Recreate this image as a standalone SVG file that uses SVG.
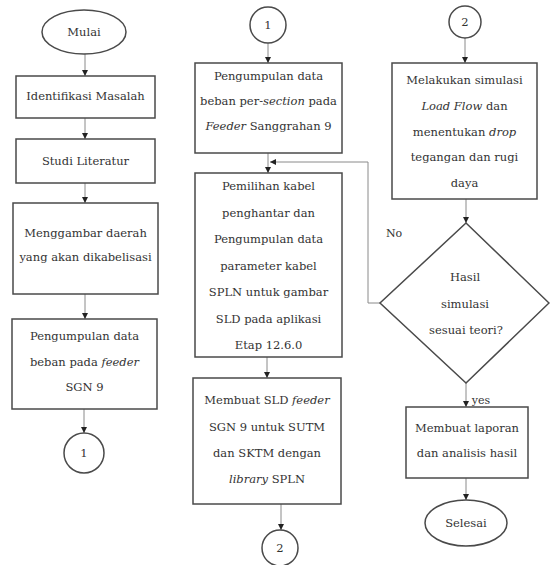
<svg xmlns="http://www.w3.org/2000/svg" width="550" height="565" viewBox="0 0 550 565" font-family="DejaVu Serif, serif">
<defs>
<style>
.shape{fill:#fff;stroke:#4a4a4a;stroke-width:1.5}
.conn{fill:none;stroke:#8a8a8a;stroke-width:1}
.t{font-family:'DejaVu Serif',serif;font-size:11.5px;fill:#333;text-anchor:middle;dominant-baseline:central}
.it{font-style:italic}
.lbl{font-size:11px}
</style>
<marker id="ah" markerUnits="userSpaceOnUse" markerWidth="7" markerHeight="7" refX="6" refY="3" orient="auto">
<path d="M0,0 L6,3 L0,6 z" fill="#222"/>
</marker>
</defs>
<rect width="550" height="565" fill="#fff"/>
<g id="connectors">
<line class="conn" x1="85" y1="54" x2="85" y2="76" marker-end="url(#ah)"/>
<line class="conn" x1="85" y1="118" x2="85" y2="139" marker-end="url(#ah)"/>
<line class="conn" x1="85" y1="183" x2="85" y2="203" marker-end="url(#ah)"/>
<line class="conn" x1="85" y1="294" x2="85" y2="319" marker-end="url(#ah)"/>
<line class="conn" x1="84" y1="409" x2="84" y2="433" marker-end="url(#ah)"/>
<line class="conn" x1="268" y1="43" x2="268" y2="63" marker-end="url(#ah)"/>
<line class="conn" x1="268" y1="153" x2="268" y2="173" marker-end="url(#ah)"/>
<line class="conn" x1="267" y1="357" x2="267" y2="378" marker-end="url(#ah)"/>
<line class="conn" x1="281" y1="504" x2="281" y2="530" marker-end="url(#ah)"/>
<line class="conn" x1="465" y1="38" x2="465" y2="63" marker-end="url(#ah)"/>
<line class="conn" x1="466" y1="199" x2="466" y2="223" marker-end="url(#ah)"/>
<line class="conn" x1="466" y1="383" x2="466" y2="407" marker-end="url(#ah)"/>
<line class="conn" x1="466" y1="478" x2="466" y2="500" marker-end="url(#ah)"/>
<polyline class="conn" points="380,303 368,303 368,162 270,162" marker-end="url(#ah)"/>
<text class="t lbl" x="394" y="233">No</text>
<text class="t lbl" x="481" y="400">yes</text>
</g>
<g id="mulai">
<ellipse class="shape" cx="84" cy="32" rx="42" ry="22"/>
<text class="t" x="84" y="32">Mulai</text>
</g>
<g id="identifikasi">
<rect class="shape" x="16" y="76" width="139" height="42"/>
<text class="t" x="85.5" y="96">Identifikasi Masalah</text>
</g>
<g id="studi">
<rect class="shape" x="16" y="139" width="139" height="44"/>
<text class="t" x="85.5" y="161">Studi Literatur</text>
</g>
<g id="menggambar">
<rect class="shape" x="13" y="203" width="145" height="91"/>
<text class="t" x="85.5" y="233">Menggambar daerah</text>
<text class="t" x="85.5" y="257">yang akan dikabelisasi</text>
</g>
<g id="pengumpulan1">
<rect class="shape" x="12" y="319" width="145" height="90"/>
<text class="t" x="84.5" y="336">Pengumpulan data</text>
<text class="t" x="84.5" y="362">beban pada <tspan class="it">feeder</tspan></text>
<text class="t" x="84.5" y="387">SGN 9</text>
</g>
<g id="conn1a">
<circle class="shape" cx="84" cy="453" r="20"/>
<text class="t" x="84" y="453">1</text>
</g>
<g id="conn1b">
<circle class="shape" cx="268" cy="25" r="18"/>
<text class="t" x="268" y="25">1</text>
</g>
<g id="pengumpulan2">
<rect class="shape" x="195" y="63" width="147" height="90"/>
<text class="t" x="268.5" y="76">Pengumpulan data</text>
<text class="t" x="268.5" y="101">beban per-<tspan class="it">section</tspan> pada</text>
<text class="t" x="268.5" y="126"><tspan class="it">Feeder</tspan> Sanggrahan 9</text>
</g>
<g id="pemilihan">
<rect class="shape" x="195" y="173" width="147" height="184"/>
<text class="t" x="268.5" y="186">Pemilihan kabel</text>
<text class="t" x="268.5" y="212.5">penghantar dan</text>
<text class="t" x="268.5" y="239">Pengumpulan data</text>
<text class="t" x="268.5" y="265.5">parameter kabel</text>
<text class="t" x="268.5" y="292">SPLN untuk gambar</text>
<text class="t" x="268.5" y="318.5">SLD pada aplikasi</text>
<text class="t" x="268.5" y="345">Etap 12.6.0</text>
</g>
<g id="membuatsld">
<rect class="shape" x="193" y="378" width="148" height="126"/>
<text class="t" x="267" y="400">Membuat SLD <tspan class="it">feeder</tspan></text>
<text class="t" x="267" y="427">SGN 9 untuk SUTM</text>
<text class="t" x="267" y="453">dan SKTM dengan</text>
<text class="t" x="267" y="479"><tspan class="it">library</tspan> SPLN</text>
</g>
<g id="conn2a">
<circle class="shape" cx="280" cy="548" r="18"/>
<text class="t" x="280" y="548">2</text>
</g>
<g id="conn2b">
<circle class="shape" cx="465" cy="22" r="16"/>
<text class="t" x="465" y="22">2</text>
</g>
<g id="simulasi">
<rect class="shape" x="392" y="63" width="145" height="136"/>
<text class="t" x="464.5" y="80">Melakukan simulasi</text>
<text class="t" x="464.5" y="106"><tspan class="it">Load Flow</tspan> dan</text>
<text class="t" x="464.5" y="132">menentukan <tspan class="it">drop</tspan></text>
<text class="t" x="464.5" y="157">tegangan dan rugi</text>
<text class="t" x="464.5" y="183">daya</text>
</g>
<g id="keputusan">
<polygon class="shape" points="466,223 549,303 466,383 380,303"/>
<text class="t" x="465" y="277">Hasil</text>
<text class="t" x="465" y="304">simulasi</text>
<text class="t" x="466" y="330">sesuai teori?</text>
</g>
<g id="laporan">
<rect class="shape" x="406" y="407" width="122" height="71"/>
<text class="t" x="467" y="428">Membuat laporan</text>
<text class="t" x="467" y="453">dan analisis hasil</text>
</g>
<g id="selesai">
<ellipse class="shape" cx="466" cy="523" rx="41" ry="23"/>
<text class="t" x="466" y="523">Selesai</text>
</g>
</svg>
